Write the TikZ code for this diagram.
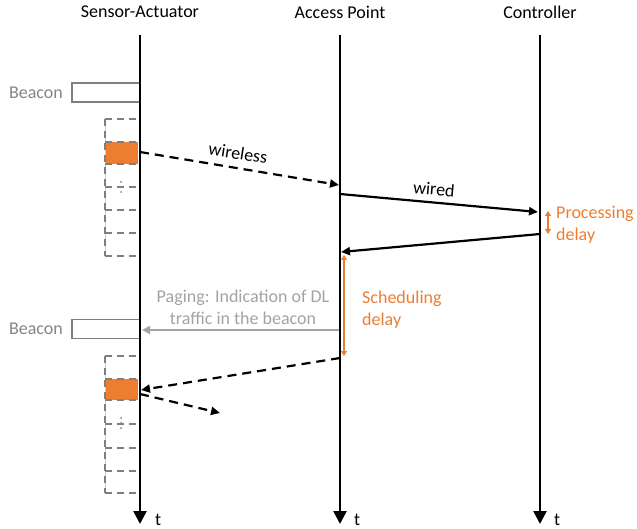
\documentclass[tikz,border=0pt]{standalone}
\usepackage{fontspec}
\setmainfont{Carlito}
\usetikzlibrary{arrows.meta}
\definecolor{orng}{HTML}{ED7D31}
\definecolor{gtext}{HTML}{858585}
\definecolor{gtextl}{HTML}{A3A3A3}
\definecolor{gline}{HTML}{7F7F7F}
\begin{document}
\begin{tikzpicture}[x=1pt,y=-1pt,
  every node/.style={font=\fontsize{18}{22}\selectfont, inner sep=0pt},
  life/.style={line width=2.6pt, -{Triangle[length=13pt,width=13pt]}},
  msg/.style={line width=2.2pt, -{Triangle[length=9pt,width=8pt]}},
  dmsg/.style={msg, dash pattern=on 9pt off 6pt},
  pagemsg/.style={draw=gtextl, line width=1.8pt, -{Triangle[length=8pt,width=8pt]}},
  delay/.style={draw=orng, line width=1.8pt, {Triangle[length=5pt,width=6pt]}-{Triangle[length=5pt,width=6pt]}},
  beaconbox/.style={draw=gline, line width=1.8pt, minimum width=68pt, minimum height=19pt},
  slotline/.style={draw=gline, line width=2pt, dash pattern=on 7pt off 5pt},
  slotedge/.style={draw=gline!40, line width=0.6pt},
  graylabel/.style={text=gtext},
  orlabel/.style={text=orng, align=left, anchor=west},
  dotstyle/.style={fill=gline, draw=none}
]
\useasboundingbox (0,0) rectangle (637,529);

% headers
\node (hsa) at (140,12) {Sensor-Actuator};
\node (hap) at (340,12) {Access Point};
\node (hct) at (540,12) {Controller};

% slot columns (drawn before lifelines)
\fill[orng] (106,142) rectangle (138,164);
\fill[orng] (106,379) rectangle (138,400);
\draw[slotedge] (105,119) -- (105,256);
\draw[slotedge] (105,356) -- (105,493);
\foreach \yy in {119,142,164,187,210,233,256}{
  \draw[slotline] (105,\yy) -- (140,\yy);
}
\draw[slotline] (105,119) -- (105,256);
\foreach \yy in {356,379,400,424,448,471,493}{
  \draw[slotline] (105,\yy) -- (140,\yy);
}
\draw[slotline] (105,356) -- (105,493);
\foreach \yy in {182,187,192,418,423,428}{
  \fill[dotstyle] (121,\yy) circle (1pt);
}

% beacons
\node[beaconbox] (b1) at (106,92.5) {};
\node[graylabel, anchor=east] (lb1) at (63,93) {Beacon};
\node[beaconbox] (b2) at (106,329) {};
\node[graylabel, anchor=east] (lb2) at (63,329) {Beacon};

% lifelines
\coordinate (sa0) at (140,35);
\coordinate (saE) at (140,524);
\coordinate (ap0) at (340,35);
\coordinate (apE) at (340,524);
\coordinate (ct0) at (540,35);
\coordinate (ctE) at (540,524);
\draw[life] (sa0) -- (saE);
\draw[life] (ap0) -- (apE);
\draw[life] (ct0) -- (ctE);
\node[anchor=base west] (tsa) at (155,525) {t};
\node[anchor=base west] (tap) at (354,525) {t};
\node[anchor=base west] (tct) at (554,525) {t};

% messages
\coordinate (w1s) at (140,152);
\coordinate (w1e) at (339,185);
\draw[dmsg] (w1s) -- (w1e);
\node[rotate=-9] (lwl) at (238,153) {wireless};

\coordinate (w2s) at (340,194);
\coordinate (w2e) at (538,212);
\draw[msg] (w2s) -- (w2e);
\node[rotate=-5] (lwd) at (434,189) {wired};

\coordinate (w3s) at (540,234);
\coordinate (w3e) at (341,252);
\draw[msg] (w3s) -- (w3e);

\coordinate (p1) at (548,211);
\coordinate (p2) at (548,234);
\draw[delay] (p1) -- (p2);
\node[orlabel] (lproc) at (556,225) {Processing\\delay};

\coordinate (s1) at (344,255);
\coordinate (s2) at (344,356);
\draw[delay] (s1) -- (s2);
\node[orlabel] (lsched) at (362,310) {Scheduling\\delay};

\coordinate (pgs) at (339,330);
\coordinate (pge) at (142,330);
\draw[pagemsg] (pgs) -- (pge);
\node[text=gtextl, align=center] (lpg) at (243,307) {Paging: Indication of DL\\traffic in the beacon};

\coordinate (d1s) at (340,358);
\coordinate (d1e) at (141,390);
\draw[dmsg] (d1s) -- (d1e);
\coordinate (d2s) at (140,394);
\coordinate (d2e) at (220,413);
\draw[dmsg] (d2s) -- (d2e);
\end{tikzpicture}
\end{document}
